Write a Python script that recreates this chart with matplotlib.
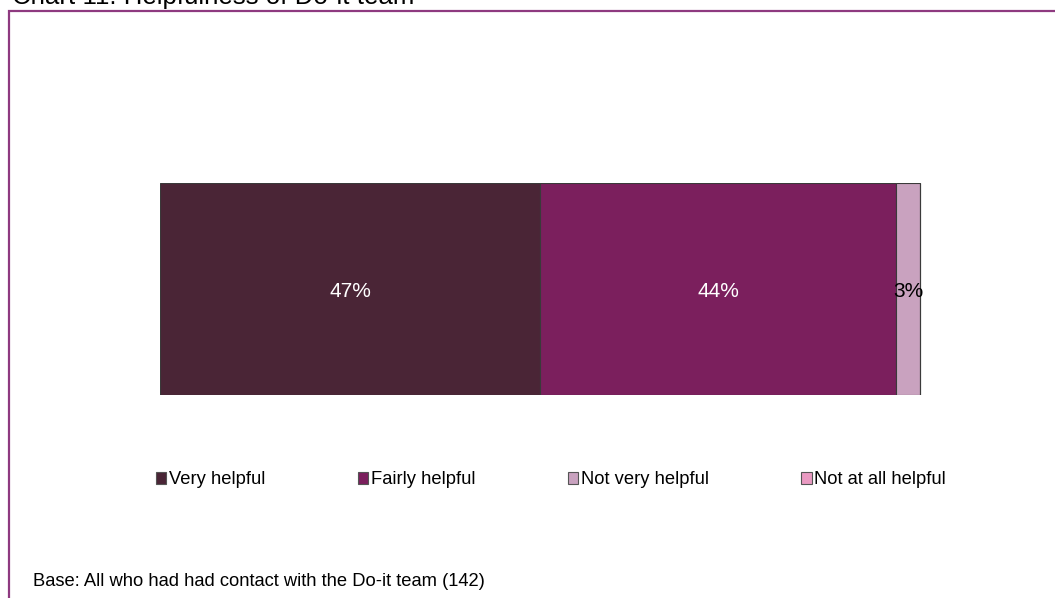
"""Stacked horizontal bar: helpfulness of the Do-it team."""

import matplotlib.pyplot as plt
from matplotlib.patches import Rectangle

plt.rcParams["font.family"] = ["Liberation Sans", "DejaVu Sans"]

categories = ["Very helpful", "Fairly helpful", "Not very helpful", "Not at all helpful"]
shares = [47, 44, 3, 0]
colors = ["#4a2536", "#7b1f5d", "#c9a2bf", "#ea9ac2"]
label_colors = ["white", "white", "black", "black"]

title = "Chart 11: Helpfulness of Do-it team"
footnote = "Base: All who had had contact with the Do-it team (142)"

W, H = 1055, 598
fig = plt.figure(figsize=(W / 100, H / 100), dpi=100)

# outer frame round the chart area
frame = Rectangle((9 / W, -0.05), 1.1, 1 - 11 / H + 0.05, transform=fig.transFigure,
                  fill=False, edgecolor="#8e3a80", linewidth=1.6, clip_on=False)
fig.add_artist(frame)

ax = fig.add_axes([160 / W, 1 - 395 / H, 809 / W, 212 / H])
left = 0
for cat, val, col, tc in zip(categories, shares, colors, label_colors):
    ax.barh(0, val, left=left, height=1.0, color=col, edgecolor="#3a3a3a",
            linewidth=0.8, label=cat)
    if val > 0:
        ax.text(left + val / 2, -0.01, f"{val}%", ha="center", va="center",
                fontsize=15, color=tc)
    left += val
ax.set_xlim(0, 100)
ax.set_ylim(-0.5, 0.5)
ax.axis("off")

fig.text(12 / W, 1 - 4 / H, title, ha="left", va="baseline", fontsize=18.6, color="black")

handles = [Rectangle((0, 0), 1, 1, facecolor=c, edgecolor="#555555", linewidth=0.8)
           for c in colors]
fig.legend(handles, categories, loc="center", bbox_to_anchor=(551 / W, 1 - 480 / H),
           ncol=4, frameon=False, fontsize=13.2, handlelength=0.55, handleheight=0.55,
           handletextpad=0.16, columnspacing=5.05)

fig.text(33 / W, 1 - 581 / H, footnote, ha="left", va="center", fontsize=13.2)

fig.savefig("out.png", dpi=100)
